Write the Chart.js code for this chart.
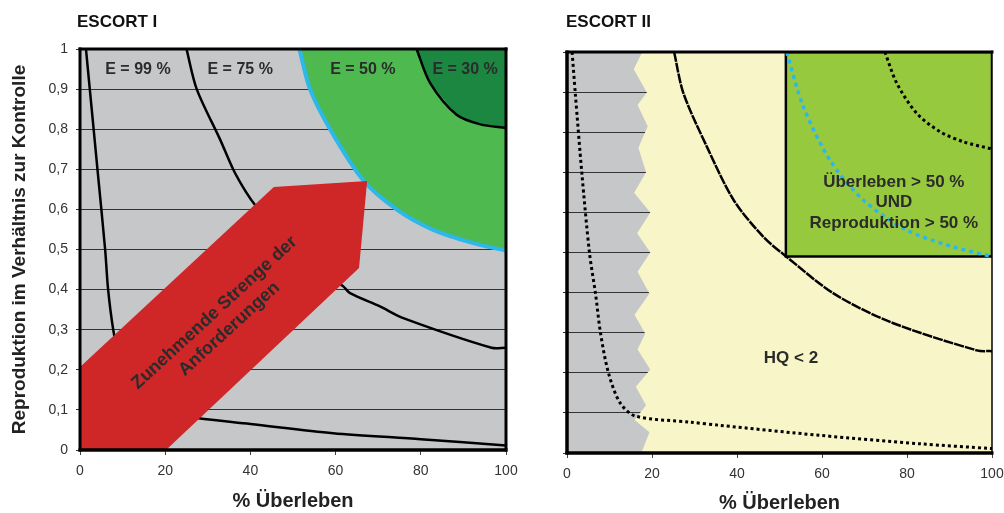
<!DOCTYPE html>
<html lang="de">
<head>
<meta charset="UTF-8">
<title>ESCORT I / ESCORT II</title>
<script src="https://cdn.jsdelivr.net/npm/chart.js"></script>
<style>
    body { margin: 0; background: #fff; }
    .panel { position: absolute; top: 0; height: 513px; }
    #p1 { left: 0; width: 520px; }
    #p2 { left: 520px; width: 484px; }
</style>
</head>
<body>
<div class="panel" id="p1"><canvas id="escort1"></canvas></div>
<div class="panel" id="p2"><canvas id="escort2"></canvas></div>

<script>
// ticks
const xTicks = [0, 20, 40, 60, 80, 100];
const yTicks = [0, 0.1, 0.2, 0.3, 0.4, 0.5, 0.6, 0.7, 0.8, 0.9, 1];
const yTickLabels = ['0', '0,1', '0,2', '0,3', '0,4', '0,5', '0,6', '0,7', '0,8', '0,9', '1'];

// ESCORT I  (x = % Überleben, y = Reproduktion)
const e99Curve = [[1.4, 1], [2.3, 0.9], [4.1, 0.7], [5.9, 0.5], [6.6, 0.4], [7.8, 0.3], [9, 0.24], [11, 0.16], [15, 0.11], [21, 0.09], [27.8, 0.079], [40, 0.065], [59.4, 0.042], [80, 0.027], [100, 0.011]];
const e75Curve = [[25, 1], [27.4, 0.9], [32.9, 0.774], [36, 0.699], [39.1, 0.641], [41.1, 0.611], [47, 0.54], [54, 0.47], [61.8, 0.408], [63.4, 0.391], [70.4, 0.358], [75.9, 0.329], [96.6, 0.255], [100, 0.255]];
const e50Curve = [[51.5, 1], [54, 0.9], [58.7, 0.8], [66.4, 0.674], [74.3, 0.6], [82.9, 0.549], [92.3, 0.516], [100, 0.497]];
const e30Curve = [[79, 1], [82.2, 0.915], [88.4, 0.836], [94, 0.812], [100, 0.803]];
const arrowShape = [[0, 0], [0, 0.207], [45.5, 0.656], [67.4, 0.671], [65.5, 0.454], [20.2, 0]];

// ESCORT II
const greyEdge = [[17.5, 0], [19.4, 0.052], [15.9, 0.082], [18.6, 0.119], [16.2, 0.165], [19.6, 0.208], [16.6, 0.258], [18.4, 0.298], [15.9, 0.345], [19.4, 0.398], [16.6, 0.452], [19.6, 0.5], [16.5, 0.548], [19.6, 0.6], [15.8, 0.649], [18.6, 0.7], [16.8, 0.761], [19, 0.815], [16.6, 0.868], [18.8, 0.899], [15.7, 0.957], [17.7, 1]];
const targetBox = [[51.5, 1], [100, 1], [100, 0.49], [51.5, 0.49], [51.5, 1]];
const e99Curve2 = [[1.2, 1], [1.95, 0.897], [3.5, 0.697], [5.3, 0.498], [6.7, 0.398], [7.9, 0.298], [9.8, 0.198], [12.5, 0.125], [16.1, 0.092], [29, 0.077], [36, 0.069], [59.5, 0.044], [83, 0.023], [100, 0.011]];
const e75Curve2 = [[25.2, 1], [27.4, 0.897], [32.9, 0.764], [39.2, 0.631], [46.2, 0.539], [51.7, 0.489], [62.7, 0.398], [76, 0.327], [96.4, 0.256], [100, 0.254]];
const e50Curve2 = [[51.7, 1], [55.6, 0.864], [61.9, 0.73], [69.7, 0.631], [79.9, 0.556], [90.9, 0.514], [100, 0.49]];
const e30Curve2 = [[74.8, 1], [77.6, 0.922], [82.3, 0.847], [87.8, 0.801], [93.3, 0.776], [100, 0.758]];

const FONT = '"Liberation Sans", Arial, Helvetica, sans-serif';
const pts = arr => arr.map(p => ({ x: p[0], y: p[1] }));

// background, frame, titles and text labels
const panelPlugin = {
    id: 'panel',
    beforeDraw(chart, args, opts) {
        const { ctx, chartArea: a } = chart;
        ctx.save();
        ctx.fillStyle = opts.plotColor;
        ctx.fillRect(a.left, a.top, a.width, a.height);
        ctx.fillStyle = '#111';
        ctx.font = 'bold 17px ' + FONT;
        ctx.textBaseline = 'middle';
        ctx.textAlign = 'left';
        ctx.fillText(opts.title, opts.titleX, 22);
        ctx.restore();
    },
    afterDatasetsDraw(chart, args, opts) {
        const { ctx, chartArea: a, scales } = chart;
        ctx.save();
        ctx.strokeStyle = '#000';
        const f = opts.frame; // left, top, right, bottom
        const edge = (w, x1, y1, x2, y2) => {
            ctx.lineWidth = w;
            ctx.beginPath(); ctx.moveTo(x1, y1); ctx.lineTo(x2, y2); ctx.stroke();
        };
        edge(f[0], a.left, a.top - 1.5, a.left, a.bottom + 1.5);
        edge(f[1], a.left - 1.5, a.top, a.right + 1.5, a.top);
        edge(f[2], a.right, a.top - 1.5, a.right, a.bottom + 1.5);
        edge(f[3], a.left - 1.5, a.bottom, a.right + 1.5, a.bottom);

        ctx.fillStyle = '#2b2b2b';
        ctx.textAlign = 'center';
        ctx.textBaseline = 'middle';
        opts.labels.forEach(l => {
            const px = scales.x.getPixelForValue(l.x);
            const py = scales.y.getPixelForValue(l.y);
            ctx.save();
            ctx.translate(px, py);
            ctx.rotate((l.rotate || 0) * Math.PI / 180);
            ctx.font = 'bold ' + l.size + 'px ' + FONT;
            const lh = l.size * 1.22;
            l.lines.forEach((t, i) => {
                ctx.fillText(t, 0, (i - (l.lines.length - 1) / 2) * lh);
            });
            ctx.restore();
        });
        ctx.restore();
    }
};

function curve(data, color, width, dash, order) {
    return {
        data: pts(data), showLine: true, fill: false, pointRadius: 0,
        borderColor: color, borderWidth: width, borderDash: dash || [],
        tension: 0.3, order: order
    };
}
function area(data, color, order, border) {
    return {
        data: pts(data), showLine: true, fill: 'shape', pointRadius: 0,
        backgroundColor: color, borderColor: border || 'rgba(0,0,0,0)',
        borderWidth: border ? 2.5 : 0, tension: 0, order: order
    };
}

function makeScales(opts) {
    return {
        x: {
            type: 'linear', min: 0, max: 100,
            afterBuildTicks: s => { s.ticks = xTicks.map(v => ({ value: v })); },
            afterFit: s => { s.height = opts.xHeight; s.paddingLeft = 0; s.paddingRight = 0; },
            border: { display: false },
            grid: { drawOnChartArea: false, drawTicks: true, tickLength: 5, color: '#444' },
            ticks: { color: '#333', font: { family: FONT, size: 14 }, padding: 8, maxRotation: 0 },
            title: {
                display: true, text: '% Überleben', color: '#222',
                font: { family: FONT, size: 20, weight: 'bold', lineHeight: 1 },
                padding: { top: 0, bottom: opts.xTitlePad }
            }
        },
        y: {
            type: 'linear', min: 0, max: 1,
            afterBuildTicks: s => { s.ticks = yTicks.map(v => ({ value: v })); },
            afterFit: s => { s.width = opts.yWidth; s.paddingTop = 0; s.paddingBottom = 0; },
            border: { display: false },
            grid: { color: '#333', lineWidth: 1, drawTicks: true, tickLength: 4 },
            ticks: {
                display: opts.yLabels, color: '#333', padding: 8,
                font: { family: FONT, size: 14 },
                callback: (v, i) => yTickLabels[i]
            },
            title: {
                display: opts.yLabels, text: 'Reproduktion im Verhältnis zur Kontrolle', color: '#222',
                font: { family: FONT, size: 19, weight: 'bold', lineHeight: 1 },
                padding: { top: 10, bottom: 0 }
            }
        }
    };
}

// ESCORT I
new Chart(document.getElementById('escort1'), {
    type: 'scatter',
    data: {
        datasets: [
            area(arrowShape, '#cf2628', 0),
            curve(e99Curve, '#000', 2.5, null, 1),
            curve(e75Curve, '#000', 2.5, null, 1),
            curve(e30Curve, '#000', 2.5, null, 1),
            curve(e50Curve, '#2cb8ea', 4, null, 2),
            area(e30Curve.concat([[100, 1]]), '#1b8741', 3),
            area(e50Curve.concat([[100, 1]]), '#4db94f', 4)
        ]
    },
    options: {
        responsive: true, maintainAspectRatio: false, animation: false, events: [],
        layout: { padding: { top: 49, right: 14, left: 0, bottom: 0 } },
        scales: makeScales({ xHeight: 63, yWidth: 80, yLabels: true, xTitlePad: 2 }),
        plugins: {
            legend: { display: false }, tooltip: { enabled: false },
            panel: {
                plotColor: '#c6c7c9', title: 'ESCORT I', titleX: 77,
                frame: [3, 3, 3, 3.5],
                labels: [
                    { lines: ['E = 99 %'], x: 13.6, y: 0.948, size: 16 },
                    { lines: ['E = 75 %'], x: 37.6, y: 0.948, size: 16 },
                    { lines: ['E = 50 %'], x: 66.4, y: 0.948, size: 16 },
                    { lines: ['E = 30 %'], x: 90.4, y: 0.948, size: 16 },
                    { lines: ['Zunehmende Strenge der', 'Anforderungen'], x: 33.3, y: 0.322, size: 18, rotate: -42.5 }
                ]
            }
        }
    },
    plugins: [panelPlugin]
});

// ESCORT II
new Chart(document.getElementById('escort2'), {
    type: 'scatter',
    data: {
        datasets: [
            curve(e99Curve2, '#000', 3, [3, 3], 0),
            curve(e75Curve2, '#000', 2.5, [10, 1], 0),
            curve(e30Curve2, '#000', 3, [3, 3], 0),
            curve(e50Curve2, '#2cb8ea', 3.5, [4, 4], 1),
            area(targetBox, '#96c93d', 2, '#000'),
            area([[0, 0]].concat(greyEdge, [[100, 1], [100, 0]]), '#f8f6c9', 3)
        ]
    },
    options: {
        responsive: true, maintainAspectRatio: false, animation: false, events: [],
        layout: { padding: { top: 52, right: 12, left: 0, bottom: 0 } },
        scales: makeScales({ xHeight: 60, yWidth: 47, yLabels: false, xTitlePad: 0 }),
        plugins: {
            legend: { display: false }, tooltip: { enabled: false },
            panel: {
                plotColor: '#c6c7c9', title: 'ESCORT II', titleX: 46,
                frame: [3.5, 3, 1.5, 3.5],
                labels: [
                    { lines: ['Überleben > 50 %', 'UND', 'Reproduktion > 50 %'], x: 76.9, y: 0.624, size: 17 },
                    { lines: ['HQ < 2'], x: 52.7, y: 0.236, size: 17 }
                ]
            }
        }
    },
    plugins: [panelPlugin]
});
</script>
</body>
</html>
